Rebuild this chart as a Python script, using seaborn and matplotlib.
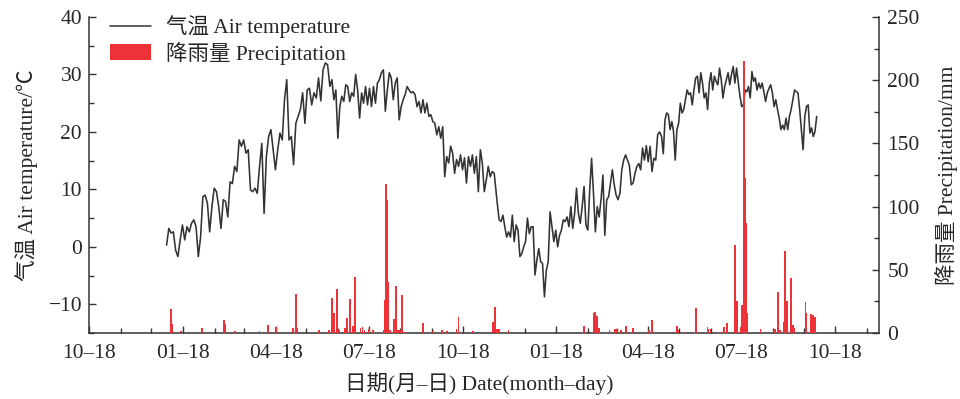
import numpy as np
import pandas as pd
import matplotlib
matplotlib.use('Agg')
import matplotlib.pyplot as plt
import matplotlib.dates as mdates
from matplotlib.ticker import MultipleLocator, FuncFormatter
from matplotlib.lines import Line2D
from matplotlib.patches import Patch
import seaborn as sns

# ---------------- data ----------------
# daily air temperature (degC), four consecutive stretches
temp_a_span = ("2020-01-02", "2020-06-10")
temp_a = [0.3, 3.2, 2.4, 2.6, -0.6, -1.7, 1.2, 3.8, 1.2, 3.5, 2.6, 4.1, 4.7, 3.5, -1.7, 1.7,
          8.7, 9.0, 7.6, 2.6, 7.0, 10.2, 9.6, 7.0, 3.2, 8.2, 7.9, 5.2, 11.3, 11.0, 14.0, 13.1,
          18.6, 17.5, 18.6, 16.3, 16.9, 9.9, 9.6, 10.2, 9.3, 14.0, 18.0, 5.8, 15.7, 19.2, 20.4,
          16.9, 13.4, 16.9, 19.8, 18.6, 25.6, 29.1, 18.6, 19.2, 14.3, 21.5, 22.7, 23.9, 26.8,
          21.5, 27.3, 27.6, 24.7, 26.8, 25.9, 29.4, 25.4, 30.8, 32.0, 31.7, 27.9]

temp_b_span = ("2020-06-12", "2020-11-18")
temp_b = [29.1, 25.6, 27.3, 18.9, 24.4, 26.2, 25.3, 28.2, 27.9, 25.3,
          26.8, 26.2, 30.0, 27.3, 22.4, 26.8, 25.0, 27.9, 24.7, 27.6,
          24.4, 27.9, 25.0, 28.5, 29.1, 30.3, 30.8, 23.6, 27.3, 30.3,
          29.4, 25.6, 28.5, 29.4, 22.1, 24.4, 25.6, 26.5, 27.9, 27.3,
          26.8, 27.0, 26.5, 24.4, 25.3, 23.3, 25.6, 23.3, 25.0, 22.7,
          23.0, 21.8, 21.5, 19.5, 20.9, 18.9, 20.9, 12.2, 15.7, 14.6,
          17.5, 16.3, 12.8, 15.2, 14.0, 16.0, 13.4, 15.5, 11.1, 15.7,
          14.0, 16.0, 12.8, 15.7, 9.6, 16.9, 14.6, 9.6, 11.6, 14.0,
          12.2, 13.1, 12.8]

temp_c_span = ("2020-11-21", "2021-04-29")
temp_c = [7.6, 4.7, 4.4, 5.5, 3.5, 1.7, 2.6, 1.7, 5.5, 0.9,
          3.8, 2.9, -1.7, -1.2, 0.0, 0.9, 5.0, 2.3, 3.5, 3.5,
          -4.9, -2.3, -0.3, -2.6, -2.9, -8.7, -4.1, -2.6, 6.1, 3.5,
          0.9, 2.9, 0.0, 2.0, 2.9, 4.7, 4.4, 5.2, 3.5, 7.0,
          3.2, 5.8, 10.2, 5.8, 4.1, 7.0, 10.5, 3.8, 2.9, 9.9,
          15.4, 9.3, 2.6, 7.0, 5.2, 8.2, 12.5, 2.0, 8.2, 8.7,
          11.1, 13.4, 10.8, 9.0, 8.2, 9.3, 13.4, 15.1, 16.0, 15.1,
          14.2, 10.8, 11.1, 12.8, 14.0, 14.5, 13.4, 17.2, 15.1, 17.6,
          14.8, 17.5, 13.1, 15.4, 15.1, 19.5, 20.0]

temp_d_span = ("2021-05-01", "2021-09-30")
temp_d = [19.2, 16.2, 22.1, 23.3, 23.0, 20.4, 21.8, 20.1, 15.1, 20.4,
          21.5, 25.0, 23.3, 23.9, 25.6, 27.3, 26.5, 26.8, 24.7, 27.3,
          29.4, 29.7, 26.8, 30.3, 28.5, 25.9, 26.8, 23.9, 28.5, 30.3,
          27.3, 29.7, 28.8, 28.2, 31.1, 29.1, 25.9, 27.9, 29.1, 30.3,
          28.2, 30.0, 31.4, 28.5, 31.1, 28.5, 26.2, 24.4, 24.7, 27.3,
          27.0, 27.9, 25.9, 30.5, 28.8, 29.4, 27.3, 28.5, 27.6, 28.5,
          27.0, 25.3, 26.8, 27.6, 28.2, 26.8, 24.4, 25.6, 23.9, 22.4,
          20.4, 21.2, 20.4, 22.4, 20.4, 22.7, 23.9, 25.6, 27.3, 27.0,
          26.8, 23.9, 20.4, 16.9, 22.7, 24.4, 24.7, 19.8, 20.7, 19.2,
          20.1, 22.7]

# daily precipitation (mm)
prec_dates = ["2020-01-06", "2020-01-07", "2020-01-16", "2020-02-06", "2020-02-27", "2020-02-28",
              "2020-03-09", "2020-04-02", "2020-04-10", "2020-04-18", "2020-05-05", "2020-05-08",
              "2020-05-09", "2020-05-30", "2020-06-09", "2020-06-12", "2020-06-14", "2020-06-17",
              "2020-06-19", "2020-06-25", "2020-06-27", "2020-06-30", "2020-07-03", "2020-07-05",
              "2020-07-10", "2020-07-12", "2020-07-14", "2020-07-18", "2020-07-22", "2020-08-02",
              "2020-08-03", "2020-08-04", "2020-08-05", "2020-08-06", "2020-08-08", "2020-08-12",
              "2020-08-14", "2020-08-16", "2020-08-18", "2020-08-20", "2020-08-23", "2020-09-09",
              "2020-09-19", "2020-09-28", "2020-10-03", "2020-10-12", "2020-10-14", "2020-10-28",
              "2020-11-17", "2020-11-19", "2020-11-21", "2020-11-23", "2020-12-02", "2021-02-14",
              "2021-02-24", "2021-02-25", "2021-02-27", "2021-03-01", "2021-03-11", "2021-03-16",
              "2021-03-18", "2021-03-22", "2021-03-27", "2021-04-03", "2021-04-19", "2021-04-22",
              "2021-05-16", "2021-05-17", "2021-05-23", "2021-06-04", "2021-06-15", "2021-06-16",
              "2021-06-18", "2021-06-27", "2021-07-01", "2021-07-04", "2021-07-12", "2021-07-14",
              "2021-07-18", "2021-07-19", "2021-07-21", "2021-07-22", "2021-07-23", "2021-07-24",
              "2021-08-06", "2021-08-19", "2021-08-20", "2021-08-23", "2021-08-25", "2021-08-29",
              "2021-08-30", "2021-09-01", "2021-09-05", "2021-09-07", "2021-09-08", "2021-09-19",
              "2021-09-20", "2021-09-24", "2021-09-26", "2021-09-28"]
prec_mm = [18.8, 7.1, 1.5, 3.8, 10.0, 7.0,
           1.5, 1.5, 6.0, 4.8, 3.8, 30.6,
           3.7, 2.6, 2.6, 27.4, 15.6, 34.8,
           2.6, 3.7, 12.1, 26.6, 5.8, 44.0,
           3.7, 4.8, 2.0, 3.0, 2.5, 2.6,
           26.1, 117.9, 105.2, 40.1, 2.0, 10.8,
           37.4, 2.0, 2.5, 29.8, 1.0, 7.7,
           1.5, 2.0, 1.5, 3.0, 12.4, 1.5,
           9.0, 20.8, 3.5, 3.5, 2.6, 5.8,
           16.1, 16.9, 13.3, 3.7, 2.2, 3.0,
           3.4, 2.6, 5.8, 3.7, 2.0, 10.3,
           5.5, 2.5, 1.0, 20.0, 4.5, 3.5,
           3.0, 1.0, 4.7, 7.6, 69.6, 25.6,
           5.0, 22.2, 215.0, 122.4, 86.8, 15.6,
           3.5, 2.0, 3.0, 32.2, 2.0, 9.0,
           64.9, 25.6, 43.3, 6.0, 4.0, 24.8,
           15.8, 14.8, 14.0, 12.7]

x_range = ("2019-10-18", "2021-11-30")
temp_label = "气温 Air temperature"
prec_label = "降雨量 Precipitation"
x_title = "日期(月–日) Date(month–day)"
y_title = "气温 Air temperature/℃"
y2_title = "降雨量 Precipitation/mm"

# ---------------- build tables ----------------
parts = []
for span, vals in [(temp_a_span, temp_a), (temp_b_span, temp_b),
                   (temp_c_span, temp_c), (temp_d_span, temp_d)]:
    parts.append(pd.DataFrame({"date": pd.date_range(span[0], span[1], periods=len(vals)),
                               "temp": vals}))
temp_df = pd.concat(parts, ignore_index=True)
prec_df = pd.DataFrame({"date": pd.to_datetime(prec_dates), "mm": prec_mm})

# ---------------- style ----------------
sns.set_theme(style="ticks")
plt.rcParams['font.family'] = ['Liberation Serif', 'Noto Sans CJK SC']
plt.rcParams['axes.unicode_minus'] = True
TXT = '#262626'
SPINE = '#333333'
RED = '#ee3338'
FS = 15.5

fig = plt.figure(figsize=(9.6, 3.99), dpi=100)
ax = fig.add_axes([0.0927, 0.1654, 0.8229, 0.792])

sns.lineplot(data=temp_df, x="date", y="temp", ax=ax, color='#333333',
             linewidth=1.15, estimator=None, sort=False, legend=False)

ax2 = ax.twinx()
ax2.bar(prec_df["date"], prec_df["mm"], width=1.8, color=RED, linewidth=0)

ax.set_xlim(pd.Timestamp(x_range[0]), pd.Timestamp(x_range[1]))
ax.set_ylim(-15, 40)
ax2.set_ylim(0, 250)

# ticks
ax.yaxis.set_major_locator(MultipleLocator(10))
ax.yaxis.set_minor_locator(MultipleLocator(5))
ax2.yaxis.set_major_locator(MultipleLocator(50))
ax2.yaxis.set_minor_locator(MultipleLocator(25))
ax.xaxis.set_major_locator(mdates.MonthLocator(bymonth=[1, 4, 7, 10], bymonthday=18))
ax.xaxis.set_minor_locator(mdates.MonthLocator(bymonthday=18))
ax.xaxis.set_major_formatter(FuncFormatter(
    lambda v, p: mdates.num2date(v).strftime('%m') + '–' + mdates.num2date(v).strftime('%d')))

for a in (ax, ax2):
    a.tick_params(which='major', direction='in', length=5, width=1.0, colors=SPINE,
                  labelcolor=TXT, labelsize=FS)
    a.tick_params(which='minor', direction='in', length=3.5, width=1.0, colors=SPINE)
    a.spines['top'].set_visible(False)
    for s in a.spines.values():
        s.set_color(SPINE)
        s.set_linewidth(1.1)
ax.tick_params(axis='y', pad=5)
ax.tick_params(axis='x', pad=8)
ax2.tick_params(axis='y', pad=6)
ax.spines['right'].set_visible(False)
ax2.spines['left'].set_visible(False)
ax2.spines['bottom'].set_visible(False)

ax.set_xlabel(x_title, fontsize=FS, color=TXT)
ax.set_ylabel(y_title, fontsize=FS, color=TXT)
ax2.set_ylabel(y2_title, fontsize=FS, color=TXT)
ax.xaxis.set_label_coords(0.494, -0.125)
ax.yaxis.set_label_coords(-0.064, 0.5)
ax2.yaxis.set_label_coords(1.071, 0.5)

handles = [Line2D([0], [0], color='#333333', lw=1.1), Patch(facecolor=RED, edgecolor='none')]
ax2.legend(handles, [temp_label, prec_label], loc='upper left', bbox_to_anchor=(0.027, 1.005),
           frameon=False, fontsize=FS, handlelength=1.9, handletextpad=0.7,
           borderpad=0, borderaxespad=0, labelspacing=0.15, labelcolor=TXT)

fig.savefig("out.png", dpi=100)
